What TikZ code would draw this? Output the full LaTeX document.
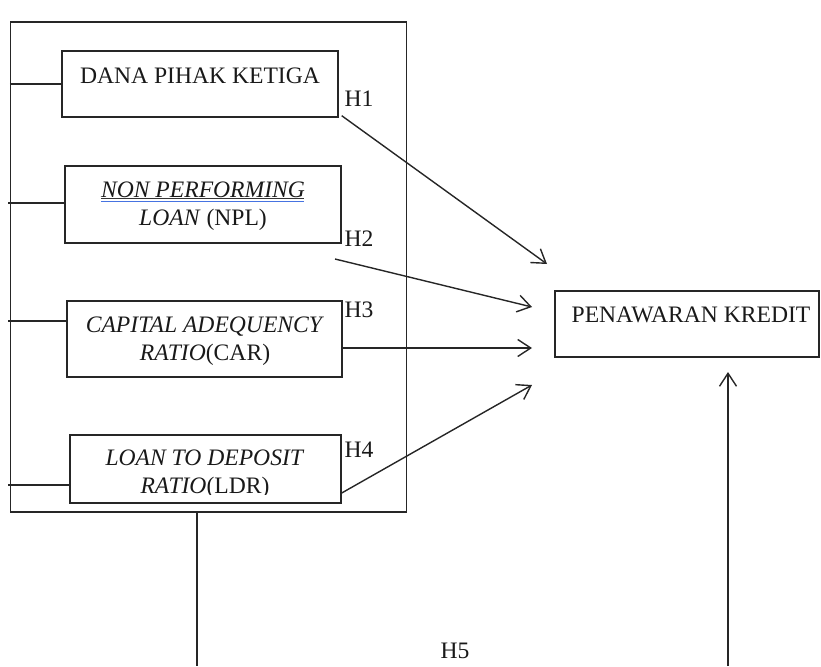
\documentclass[tikz,border=0pt]{standalone}
\usepackage{fontspec}
\setmainfont{Liberation Serif}
\usetikzlibrary{arrows.meta}
\begin{document}
\begin{tikzpicture}[x=1pt,y=-1pt,
  ln/.style={line width=1.4pt, draw=black!85},
  boxn/.style={ln, draw, rectangle, inner sep=0pt},
  txt/.style={font=\fontsize{23.6}{28}\selectfont, align=center, inner sep=0pt, text=black!90},
  hl/.style={font=\fontsize{23.6}{28}\selectfont, inner sep=0pt, text=black!90},
  arr/.style={ln, -{Straight Barb[length=13pt,width=17pt,line width=1.4pt]}}]
\useasboundingbox (0,0) rectangle (821,666);
% outer frame
\node[boxn, minimum width=396pt, minimum height=490pt] (outer) at (208.5,267) {};
% inner boxes
\node[boxn, minimum width=276pt, minimum height=66pt] (b1) at (200,84) {};
\node[boxn, minimum width=276pt, minimum height=77pt] (b2) at (203,204.5) {};
\node[boxn, minimum width=275pt, minimum height=76pt] (b3) at (204.5,339) {};
\node[boxn, minimum width=271pt, minimum height=68pt] (b4) at (205.5,469) {};
\node[boxn, minimum width=264pt, minimum height=66pt] (pk) at (687,324) {};
% texts
\node[txt] (t1) at (200,76) {DANA PIHAK KETIGA};
\node[txt] (t2) at (203,206) {\textit{NON PERFORMING}\\\textit{LOAN} (NPL)};
\draw[line width=0.8pt, draw=black!80] (101,198.5) -- (304,198.5);
\draw[line width=1.3pt, draw={rgb,255:red,70;green,115;blue,225}] (101,201.5) -- (304,201.5);
\node[txt] (t3) at (205,341) {\textit{CAPITAL ADEQUENCY}\\\textit{RATIO}(CAR)};
\begin{scope}
\clip (70,430) rectangle (341,494);
\node[txt] (t4) at (205,474) {\textit{LOAN TO DEPOSIT}\\\textit{RATIO}(LDR)};
\end{scope}
\node[txt] (t5) at (691,315) {PENAWARAN KREDIT};
% hypothesis labels
\node[hl] (h1) at (359,99) {H1};
\node[hl] (h2) at (359,239) {H2};
\node[hl] (h3) at (359,310) {H3};
\node[hl] (h4) at (359,450) {H4};
\node[hl] (h5) at (455,651) {H5};
% left connectors
\coordinate (l1) at (outer.west |- b1.west);
\coordinate (l2) at (8,203);
\coordinate (l3) at (8,321);
\coordinate (l4) at (8,485);
\draw[ln] (l1) -- (b1.west);
\draw[ln] (l2) -- (b2.west |- l2);
\draw[ln] (l3) -- (b3.west |- l3);
\draw[ln] (l4) -- (b4.west |- l4);
% arrows into Penawaran Kredit
\coordinate (s2) at (335,259);
\coordinate (e1) at (547,264);
\coordinate (e2) at (532,307);
\coordinate (e3) at (532,348);
\coordinate (e4) at (532,385);
\draw[arr] (b1.south east) ++(3,-2) coordinate (s1) -- (e1);
\draw[arr] (s2) -- (e2);
\draw[arr] (b3.east |- e3) -- (e3);
\draw[arr] (b4.east |- 0,493) -- (e4);
% bottom H5 connectors
\coordinate (d1) at (197,666);
\coordinate (d2) at (728,666);
\coordinate (u2) at (728,372);
\draw[ln] (outer.south -| d1) -- (d1);
\draw[arr] (d2) -- (u2);
\end{tikzpicture}
\end{document}
